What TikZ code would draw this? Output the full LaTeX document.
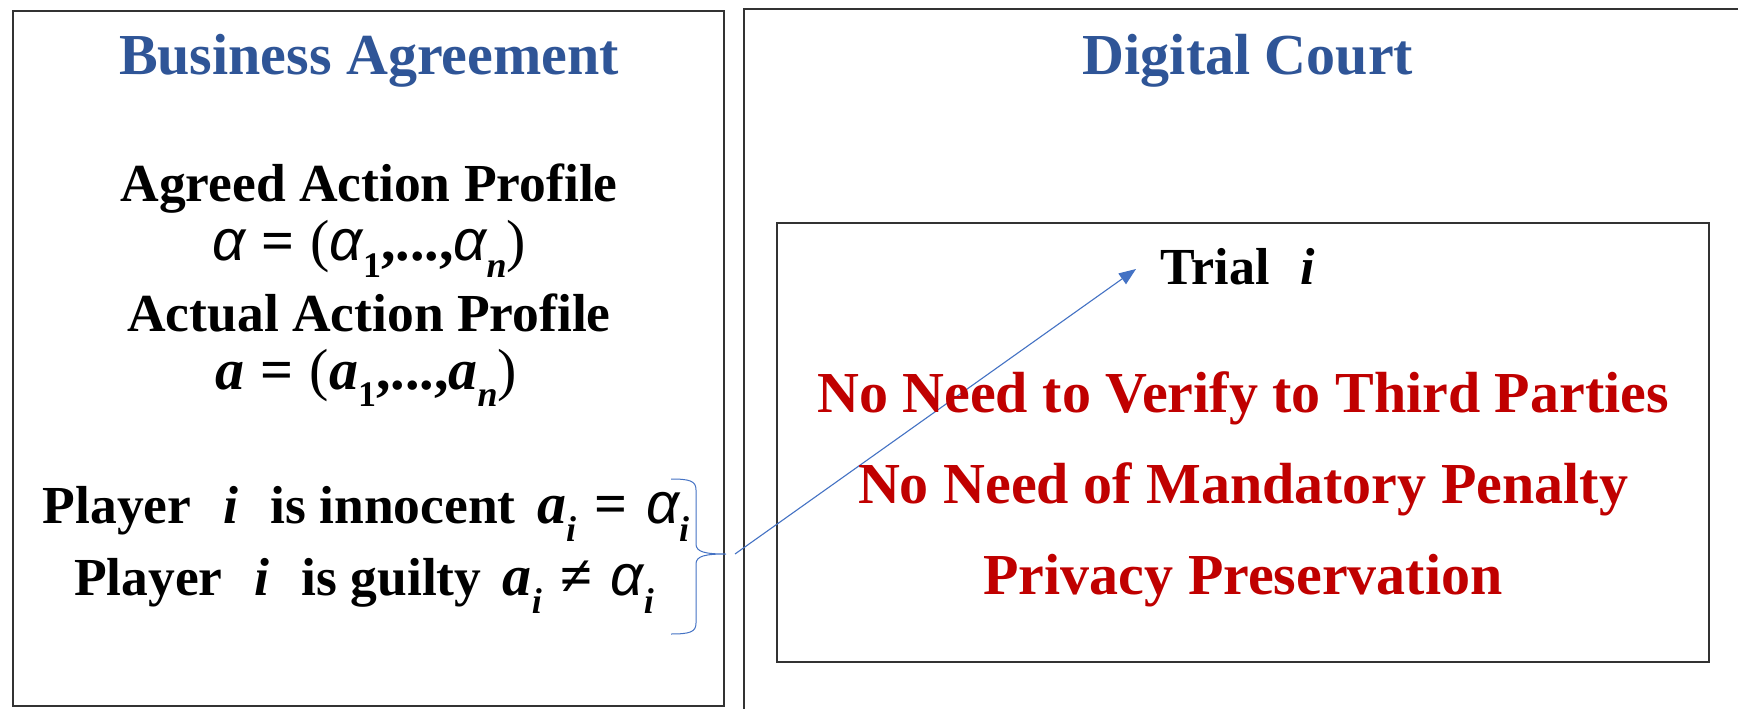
\documentclass[tikz,border=0pt]{standalone}
\usepackage{fontspec}
\setmainfont{Liberation Serif}
\newfontfamily\greekf{Liberation Sans}
\usetikzlibrary{arrows.meta}
\definecolor{titleblue}{HTML}{2F5597}
\definecolor{darkred}{HTML}{C00000}
\definecolor{linkblue}{HTML}{4472C4}
\newcommand{\lowsub}[1]{\raisebox{-0.3em}{\scalebox{0.62}{#1}}}
\newcommand{\alf}{{\greekf\mdseries\itshape α}}
\newcommand{\eqsp}{\hspace{0.28em}}
\newcommand{\wideq}{\hspace{0.32em}}
\tikzset{
  frame/.style={draw=black!80, line width=1.3pt},
  titletext/.style={font=\fontsize{58}{64}\selectfont\bfseries, text=titleblue, inner sep=0pt},
  bodytext/.style={font=\fontsize{53.5}{60}\selectfont\bfseries, text=black, inner sep=0pt},
  mathtext/.style={font=\fontsize{58}{64}\selectfont\bfseries, text=black, inner sep=0pt},
  playertext/.style={font=\fontsize{53.5}{60}\selectfont\bfseries, text=black, inner sep=0pt},
  redtext/.style={font=\fontsize{58}{64}\selectfont\bfseries, text=darkred, inner sep=0pt},
  link/.style={draw=linkblue, line width=1.1pt},
}
\newcommand{\mth}[1]{{\fontsize{58}{64}\selectfont #1}}
\begin{document}
\begin{tikzpicture}[x=1pt,y=-1pt]
\useasboundingbox (0,0) rectangle (1738,709);
\fill[white] (0,0) rectangle (1738,709);
% boxes
\draw[frame] (13,11) rectangle (724,706);
\draw[frame] (1745,9) -- (744,9) -- (744,715);
\draw[frame] (777,223) rectangle (1709,662);
% titles
\node[titletext] (t1) at (369,61) {Business Agreement};
\node[titletext] (t2) at (1248,61) {Digital Court};
% left content
\node[bodytext] (agreed) at (369,189) {Agreed Action Profile};
\node[mathtext] (alpha) at (369,249) {\alf\eqsp=\eqsp{\mdseries(}\alf\lowsub{1},...,\alf\lowsub{\textit{n}}{\mdseries)}};
\node[bodytext] (actual) at (369,313) {Actual Action Profile};
\node[mathtext] (aprof) at (366,378) {\textit{a}\eqsp=\eqsp{\mdseries(}\textit{a}\lowsub{1},...,\textit{a}\lowsub{\textit{n}}{\mdseries)}};
\node[playertext] (inno) at (366,514) {Player\hspace{0.6em}\textit{i}\hspace{0.6em}is innocent\hspace{0.4em}\mth{\textit{a}\lowsub{\textit{i}}\wideq=\wideq\alf\lowsub{\textit{i}}}};
\node[playertext] (guilty) at (364,586) {Player\hspace{0.6em}\textit{i}\hspace{0.6em}is guilty\hspace{0.4em}\mth{\textit{a}\lowsub{\textit{i}}\wideq≠\wideq\alf\lowsub{\textit{i}}}};
% brace
\coordinate (btip) at (726,554);
\draw[link, line width=1pt] (671,479) .. controls (690,479) and (696,481) .. (696,490)
  -- (696,544) .. controls (696,552) and (705,554) .. (btip)
  .. controls (705,554) and (696,556) .. (696,564)
  -- (696,623) .. controls (696,632) and (690,634) .. (671,634);
% right content
\node[bodytext,font=\fontsize{52}{58}\selectfont\bfseries] (trial) at (1238,267) {Trial\hspace{0.6em}\textit{i}};
\coordinate (astart) at (735,554);
\coordinate (aend) at (1136,269);
\draw[link, -{Triangle[length=17pt,width=13pt]}] (astart) -- (aend);
\node[redtext] (r1) at (1243,398) {No Need to Verify to Third Parties};
\node[redtext] (r2) at (1243,489) {No Need of Mandatory Penalty};
\node[redtext] (r3) at (1243,581) {Privacy Preservation};
\end{tikzpicture}
\end{document}
